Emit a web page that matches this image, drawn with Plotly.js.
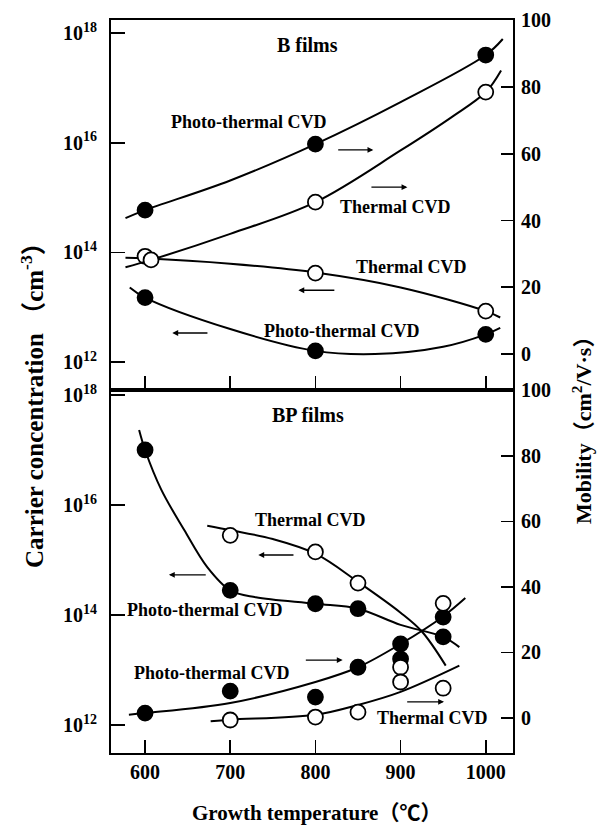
<!DOCTYPE html>
<html>
<head>
<meta charset="utf-8">
<script src="https://cdn.plot.ly/plotly-3.0.1.min.js"></script>
<style>html,body{margin:0;padding:0;background:#fff;}#chart{width:600px;height:827px;}</style>
</head>
<body>
<div id="chart"></div>
<script>
// ---------- data ----------
const tempTicks = [600, 700, 800, 900, 1000];
const concTickVals = [1e12, 1e14, 1e16, 1e18];
const concTickText = ['10<sup>12</sup>', '10<sup>14</sup>', '10<sup>16</sup>', '10<sup>18</sup>'];
const mobTickVals = [0, 20, 40, 60, 80, 100];

// B films (top panel)
const bPhotoMobT = [600, 800, 1000];
const bPhotoMob = [43.1, 62.9, 89.6];
const bPhotoMobCurveT = [577, 600, 700, 800, 900, 1000, 1020];
const bPhotoMobCurve = [40.7, 43.1, 52, 62.9, 75.5, 89.6, 94.4];

const bThermMobT = [607, 800, 1000];
const bThermMob = [28.2, 45.5, 78.5];
const bThermMobCurveT = [577, 607, 700, 800, 900, 960, 1000, 1018];
const bThermMobCurve = [26, 28.2, 36, 45.5, 61, 71, 78.5, 85];

const bThermConcT = [600, 800, 1000];
const bThermConc = [8.5e13, 4.2e13, 8.5e12];
const bThermConcCurveT = [577, 600, 700, 800, 900, 1000, 1017];
const bThermConcCurve = [8.0e13, 7.8e13, 6.2e13, 4.3e13, 2.3e13, 8.5e12, 6.5e12];

const bPhotoConcT = [600, 800, 1000];
const bPhotoConc = [1.5e13, 1.6e12, 3.2e12];
const bPhotoConcCurveT = [582, 600, 700, 800, 870, 950, 1000, 1017];
const bPhotoConcCurve = [2.3e13, 1.5e13, 4.0e12, 1.6e12, 1.4e12, 1.9e12, 3.2e12, 4.2e12];

// BP films (bottom panel)
const bpPhotoConcT = [600, 700, 800, 850, 950];
const bpPhotoConc = [1e17, 2.8e14, 1.6e14, 1.3e14, 4e13];
const bpPhotoConcCurveT = [593, 600, 619, 646, 673, 700, 730, 800, 850, 900, 950, 969];
const bpPhotoConcCurve = [2.3e17, 1e17, 1.9e16, 3.5e15, 7.4e14, 2.8e14, 2.1e14, 1.6e14, 1.3e14, 6.6e13, 4e13, 2.6e13];

const bpThermConcT = [700, 800, 850];
const bpThermConc = [2.8e15, 1.4e15, 3.8e14];
const bpThermConcCurveT = [673, 700, 750, 800, 850, 900, 925, 953];
const bpThermConcCurve = [4.2e15, 3.5e15, 2.4e15, 1.3e15, 4e14, 1.1e14, 5e13, 1.2e13];

const bpPhotoMobT = [600, 700, 800, 850, 900, 900, 950];
const bpPhotoMob = [1.5, 8.2, 6.4, 15.5, 22.6, 18.0, 30.8];
const bpPhotoMobCurveT = [581, 600, 700, 800, 850, 900, 950, 976];
const bpPhotoMobCurve = [1, 1.5, 4.6, 11, 15.5, 22.6, 31, 36.6];

const bpThermMobT = [700, 800, 850, 900, 900, 950, 950];
const bpThermMob = [-0.6, 0.3, 1.8, 15.5, 11, 35, 9.1];
const bpThermMobCurveT = [677, 700, 800, 850, 900, 969];
const bpThermMobCurve = [-1, -0.5, 1, 4, 8, 16];

// ---------- styling ----------
const FONT = 'Liberation Serif, Times New Roman, serif';
const CJK = 'Liberation Serif, Noto Sans CJK JP, serif';
const black = '#000';

function curve(x, y, xa, ya) {
  return {x: x, y: y, xaxis: xa, yaxis: ya, mode: 'lines', type: 'scatter',
    line: {color: black, width: 2, shape: 'spline', smoothing: 1}, hoverinfo: 'skip', showlegend: false};
}
function pts(x, y, xa, ya, filled) {
  return {x: x, y: y, xaxis: xa, yaxis: ya, mode: 'markers', type: 'scatter', showlegend: false,
    marker: {size: 15, color: filled ? black : '#fff', line: {color: black, width: 1.8}}};
}

const traces = [
  // top panel (x2, y3 = log conc, y4 = mobility)
  curve(bPhotoMobCurveT, bPhotoMobCurve, 'x2', 'y4'),
  curve(bThermMobCurveT, bThermMobCurve, 'x2', 'y4'),
  curve(bThermConcCurveT, bThermConcCurve, 'x2', 'y3'),
  curve(bPhotoConcCurveT, bPhotoConcCurve, 'x2', 'y3'),
  pts(bThermConcT, bThermConc, 'x2', 'y3', false),
  pts(bPhotoConcT, bPhotoConc, 'x2', 'y3', true),
  pts(bThermMobT, bThermMob, 'x2', 'y4', false),
  pts(bPhotoMobT, bPhotoMob, 'x2', 'y4', true),
  // bottom panel (x, y = log conc, y2 = mobility)
  curve(bpPhotoConcCurveT, bpPhotoConcCurve, 'x', 'y'),
  curve(bpThermConcCurveT, bpThermConcCurve, 'x', 'y'),
  curve(bpPhotoMobCurveT, bpPhotoMobCurve, 'x', 'y2'),
  curve(bpThermMobCurveT, bpThermMobCurve, 'x', 'y2'),
  pts(bpThermConcT, bpThermConc, 'x', 'y', false),
  pts(bpPhotoConcT, bpPhotoConc, 'x', 'y', true),
  pts(bpPhotoMobT, bpPhotoMob, 'x', 'y2', true),
  pts(bpThermMobT, bpThermMob, 'x', 'y2', false)
];

const tickFont = {family: FONT, size: 20, color: black, weight: 'bold'};
const split = 0.4952;
const xRange = [560, 1032];

function xAxis(anchor, labels, len) {
  return {domain: [0, 1], range: xRange, anchor: anchor, tickvals: tempTicks, ticks: 'inside', ticklen: len,
    tickwidth: 1.6, tickcolor: black, showline: true, linewidth: 2, linecolor: black, mirror: true,
    showgrid: false, zeroline: false, showticklabels: labels, tickfont: tickFont, fixedrange: true};
}
function logAxis(domain, range, anchor) {
  return {domain: domain, type: 'log', range: range, anchor: anchor, tickvals: concTickVals, ticktext: concTickText,
    ticks: 'inside', ticklen: 14, tickwidth: 1.6, tickcolor: black, showline: true, linewidth: 2, linecolor: black,
    showgrid: false, zeroline: false, tickfont: tickFont, ticklabelstandoff: 8};
}
function mobAxis(over, range, anchor) {
  return {overlaying: over, side: 'right', range: range, anchor: anchor, tickvals: mobTickVals,
    ticks: 'inside', ticklen: 12, tickwidth: 1.6, tickcolor: black, showline: true, linewidth: 2, linecolor: black,
    showgrid: false, zeroline: false, tickfont: tickFont, ticklabelstandoff: 2};
}

const lbl = {family: FONT, size: 18, color: black, weight: 'bold'};
function text(t, x, y, xa, ya, anchor) {
  return {text: t, x: x, y: y, xref: xa, yref: ya, showarrow: false, font: lbl, xanchor: anchor || 'center', yanchor: 'middle'};
}
function arrow(x0, x1, y, xa, ya) {
  return {text: '', x: x1, y: y, ax: x0, ay: y, xref: xa, yref: ya, axref: xa, ayref: ya,
    showarrow: true, arrowhead: 2, arrowsize: 0.9, arrowwidth: 1.3, arrowcolor: black, standoff: 0};
}

const annotations = [
  // top panel
  {text: 'B films', x: 791, y: 17.78, xref: 'x2', yref: 'y3', showarrow: false, font: {family: FONT, size: 20, color: black, weight: 'bold'}},
  text('Photo-thermal CVD', 721, 16.38, 'x2', 'y3'),
  text('Thermal CVD', 894, 14.83, 'x2', 'y3'),
  text('Thermal CVD', 913, 13.73, 'x2', 'y3'),
  text('Photo-thermal CVD', 831, 12.57, 'x2', 'y3'),
  arrow(825, 868, 15.87, 'x2', 'y3'),
  arrow(864, 908, 15.19, 'x2', 'y3'),
  arrow(824, 780, 13.31, 'x2', 'y3'),
  arrow(675, 632, 12.53, 'x2', 'y3'),
  // bottom panel
  {text: 'BP films', x: 791, y: 17.64, xref: 'x', yref: 'y', showarrow: false, font: {family: FONT, size: 20, color: black, weight: 'bold'}},
  text('Thermal CVD', 794, 15.73, 'x', 'y'),
  text('Photo-thermal CVD', 576, 14.09, 'x', 'y', 'left'),
  text('Photo-thermal CVD', 678, 12.95, 'x', 'y'),
  text('Thermal CVD', 938, 12.13, 'x', 'y'),
  arrow(673, 628, 14.73, 'x', 'y'),
  arrow(776, 733, 15.09, 'x', 'y'),
  arrow(787, 832, 13.18, 'x', 'y'),
  arrow(906, 951, 12.42, 'x', 'y'),
  // axis titles
  {text: 'Carrier concentration （cm<sup>-3</sup>）', xref: 'paper', yref: 'paper', x: -0.1965, y: 0.483,
    xanchor: 'center', yanchor: 'middle',
    textangle: -90, showarrow: false, font: {family: CJK, size: 25, color: black, weight: 'bold'}},
  {text: 'Mobility（cm<sup>2</sup>/V·s）', xref: 'paper', yref: 'paper', x: 1.1716, y: 0.4475,
    xanchor: 'center', yanchor: 'middle',
    textangle: -90, showarrow: false, font: {family: CJK, size: 22, color: black, weight: 'bold'}},
  {text: 'Growth temperature（℃）', xref: 'paper', yref: 'paper', x: 0.512, y: -0.0819,
    xanchor: 'center', yanchor: 'middle',
    showarrow: false, font: {family: CJK, size: 21, color: black, weight: 'bold'}}
];

const layout = {
  width: 600, height: 827,
  margin: {l: 111, r: 87, t: 20, b: 74},
  paper_bgcolor: '#fff', plot_bgcolor: '#fff',
  showlegend: false,
  xaxis: xAxis('y', true, 13),
  xaxis2: Object.assign(xAxis('y3', false, 14), {matches: 'x'}),
  yaxis: logAxis([0, split], [11.49, 18.09], 'x'),
  yaxis2: mobAxis('y', [-10.67, 100.1], 'x'),
  yaxis3: logAxis([split, 1], [11.49, 18.24], 'x2'),
  yaxis4: mobAxis('y3', [-10.8, 100.1], 'x2'),
  annotations: annotations
};

Plotly.newPlot('chart', traces, layout, {displayModeBar: false, staticPlot: true});
</script>
</body>
</html>
